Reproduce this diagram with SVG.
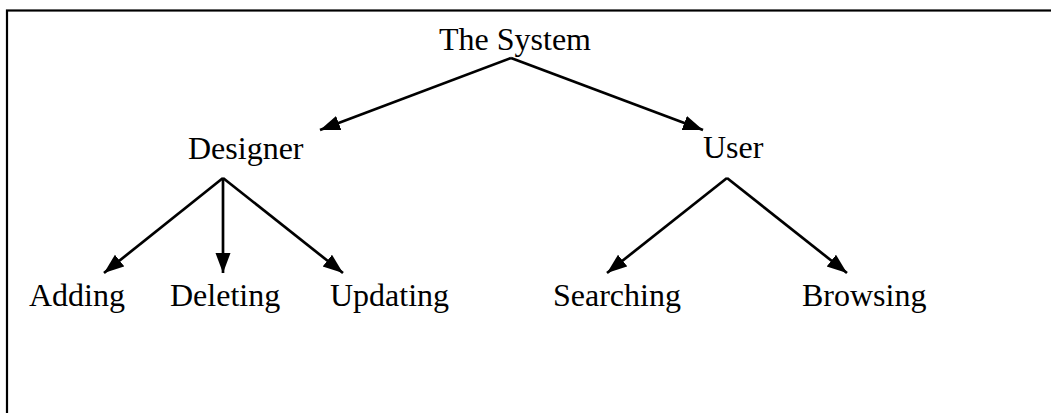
<svg xmlns="http://www.w3.org/2000/svg" width="1051" height="413" viewBox="0 0 1051 413">
<style>
.lbl{font-family:"Liberation Serif","Times New Roman",serif;font-size:32px;fill:#000}
.edge{stroke:#000;stroke-width:2.7;fill:none;marker-end:url(#ah)}
</style>
<defs>
<marker id="ah" markerUnits="userSpaceOnUse" markerWidth="22" markerHeight="16" refX="20" refY="7.5" orient="auto">
<path d="M0,0 L20,7.5 L0,15 z" fill="#000"/>
</marker>
</defs>
<rect x="7" y="10.5" width="1100" height="500" fill="#fff" stroke="#000" stroke-width="2.2"/>
<g id="connectors">
<line class="edge" x1="511" y1="58" x2="320" y2="130"/>
<line class="edge" x1="511" y1="58" x2="703" y2="130"/>
<line class="edge" x1="223" y1="178" x2="104" y2="273"/>
<line class="edge" x1="223" y1="178" x2="223" y2="273"/>
<line class="edge" x1="223" y1="178" x2="343" y2="273"/>
<line class="edge" x1="727" y1="178" x2="607" y2="273"/>
<line class="edge" x1="727" y1="178" x2="847" y2="273"/>
</g>
<g id="node-system"><text class="lbl" x="439" y="50">The System</text></g>
<g id="node-designer"><text class="lbl" x="188" y="159">Designer</text></g>
<g id="node-user"><text class="lbl" x="703" y="158">User</text></g>
<g id="node-adding"><text class="lbl" x="29" y="306">Adding</text></g>
<g id="node-deleting"><text class="lbl" x="170" y="306">Deleting</text></g>
<g id="node-updating"><text class="lbl" x="330" y="306">Updating</text></g>
<g id="node-searching"><text class="lbl" x="553" y="306">Searching</text></g>
<g id="node-browsing"><text class="lbl" x="802" y="306">Browsing</text></g>
</svg>
